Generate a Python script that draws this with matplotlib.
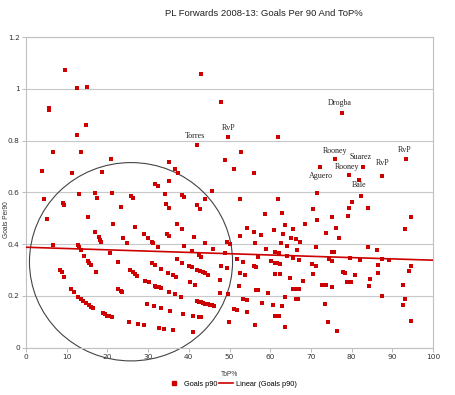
import matplotlib
matplotlib.use("Agg")
import matplotlib.pyplot as plt
from matplotlib.patches import Ellipse
from matplotlib.lines import Line2D
import numpy as np

top_pct = [9.6, 12.6, 15.1, 5.6, 5.6, 14.8, 12.5, 6.7, 13.4, 3.9, 11.3, 20.9, 18.6, 43.1, 47.9, 42.0, 49.7, 48.9,
           35.2, 36.6, 37.4, 31.8, 32.5, 35.2, 45.7, 12.9, 17.0, 17.5, 21.1, 25.7, 26.4, 34.1, 38.3, 38.9, 44.1, 4.5,
           5.2, 9.2, 9.3, 15.2, 23.3, 21.4, 6.6, 12.8, 13.1, 13.4, 17.0, 17.9, 18.2, 18.5, 14.3, 15.2, 15.5, 15.9,
           17.2, 20.7, 23.9, 24.9, 22.6, 26.9, 28.9, 29.9, 30.9, 31.3, 32.5, 34.6, 35.2, 37.0, 38.4, 38.7, 34.3, 35.1,
           41.4, 42.1, 42.8, 43.9, 45.9, 40.9, 42.6, 43.0, 8.4, 8.9, 9.3, 25.6, 26.2, 26.7, 27.2, 29.3, 30.2, 30.9,
           31.7, 33.2, 35.0, 36.0, 36.9, 37.1, 38.4, 40.1, 40.7, 41.9, 42.8, 43.4, 44.1, 44.8, 40.2, 41.6, 48.0, 47.7,
           49.3, 48.9, 49.5, 50.2, 49.6, 47.6, 11.1, 11.8, 12.8, 13.5, 14.0, 14.8, 15.4, 15.9, 16.4, 18.9, 19.5, 20.0,
           20.5, 21.1, 22.6, 23.3, 23.7, 31.6, 32.0, 32.7, 33.2, 35.2, 36.6, 38.1, 29.8, 31.4, 33.2, 35.4, 38.5, 41.0,
           42.5, 42.9, 41.9, 42.5, 43.0, 43.5, 44.1, 44.6, 45.2, 45.7, 46.3, 25.3, 27.6, 28.9, 32.8, 33.8, 36.0, 41.1,
           49.8,
           82.3, 80.2, 79.3, 79.0, 84.0, 70.4, 71.5, 75.1, 58.7, 63.0, 94.7, 93.1, 68.5, 54.4, 63.6, 65.7, 61.0, 56.1,
           57.8, 63.1, 52.5, 73.8, 76.2, 76.9, 66.4, 65.2, 67.4, 56.2, 62.6, 64.1, 71.3, 58.9, 66.6, 61.3, 62.1,
           75.2, 75.6, 84.0, 86.2, 56.9, 64.1, 65.6, 79.6, 87.5, 89.2, 51.8, 53.3, 60.2, 61.1, 61.6, 62.3, 67.0, 74.4,
           75.3, 82.1, 70.2, 71.3, 86.6, 94.6, 56.1, 56.6, 52.5, 53.8, 62.4, 61.3, 70.5, 77.8, 78.3, 80.8, 86.6, 94.2,
           64.9, 68.0, 78.9, 79.8, 84.6, 52.3, 72.7, 73.8, 75.1, 84.2, 92.7, 56.4, 56.9, 65.7, 66.4, 67.0, 59.4, 53.4,
           54.4, 58.0, 63.7, 60.8, 62.9, 66.3, 66.9, 73.4, 92.7, 93.2, 87.5, 51.0, 51.9, 54.3, 61.1, 61.6, 62.2, 56.2,
           63.6, 74.2, 76.4, 94.7,
           77.6, 61.9, 52.9, 51.0, 56.1, 75.9, 72.2, 82.7, 79.3, 81.8, 87.5, 93.4, 71.5, 52.5, 61.9]

goals_p90 = [1.074, 1.004, 1.008, 0.926, 0.919, 0.862, 0.823, 0.755, 0.757, 0.681, 0.675, 0.728, 0.679, 1.057, 0.950,
             0.783, 0.813, 0.725, 0.716, 0.690, 0.675, 0.634, 0.623, 0.645, 0.606, 0.595, 0.599, 0.579, 0.599, 0.587,
             0.578, 0.592, 0.591, 0.582, 0.574, 0.575,
             0.498, 0.559, 0.550, 0.503, 0.545, 0.476, 0.397, 0.397, 0.388, 0.378, 0.448, 0.426, 0.417, 0.409, 0.354,
             0.335, 0.326, 0.319, 0.294, 0.365, 0.423, 0.406, 0.330, 0.468, 0.439, 0.423, 0.409, 0.404, 0.388, 0.439,
             0.432, 0.476, 0.459, 0.394, 0.555, 0.539, 0.427, 0.550, 0.535, 0.404, 0.383, 0.372, 0.357, 0.352, 0.301,
             0.292, 0.272, 0.299, 0.293, 0.285, 0.277, 0.259, 0.253, 0.329, 0.319, 0.305, 0.288, 0.280, 0.272, 0.341,
             0.326, 0.317, 0.310, 0.299, 0.295, 0.292, 0.288, 0.281, 0.252, 0.243, 0.314, 0.263, 0.306, 0.364, 0.408,
             0.401, 0.207, 0.211, 0.227, 0.217, 0.197, 0.188, 0.181, 0.172, 0.163, 0.156, 0.154, 0.134, 0.129, 0.124,
             0.121, 0.119, 0.227, 0.219, 0.214, 0.240, 0.236, 0.234, 0.230, 0.215, 0.208, 0.197, 0.169, 0.161, 0.152,
             0.142, 0.129, 0.123, 0.119, 0.117, 0.181, 0.177, 0.175, 0.173, 0.170, 0.169, 0.166, 0.164, 0.161, 0.099,
             0.090, 0.086, 0.076, 0.072, 0.070, 0.062, 0.101,
             0.585, 0.564, 0.539, 0.510, 0.539, 0.537, 0.493, 0.505, 0.515, 0.519, 0.505, 0.459, 0.477, 0.462, 0.474,
             0.459, 0.454, 0.448, 0.435, 0.439, 0.430, 0.444, 0.462, 0.425, 0.418, 0.425, 0.409, 0.403, 0.403, 0.391,
             0.387, 0.383, 0.378, 0.370, 0.365, 0.370, 0.368, 0.388, 0.379, 0.352, 0.354, 0.346, 0.348, 0.343, 0.339,
             0.341, 0.330, 0.335, 0.329, 0.326, 0.323, 0.337, 0.341, 0.335, 0.338, 0.323, 0.316, 0.320, 0.317, 0.316,
             0.310, 0.288, 0.279, 0.283, 0.286, 0.285, 0.292, 0.290, 0.280, 0.290, 0.295, 0.270, 0.258, 0.255, 0.254,
             0.267, 0.239, 0.244, 0.241, 0.235, 0.239, 0.244, 0.223, 0.221, 0.228, 0.227, 0.226, 0.210, 0.188, 0.185,
             0.173, 0.196, 0.164, 0.160, 0.190, 0.188, 0.170, 0.163, 0.188, 0.200, 0.148, 0.146, 0.138, 0.123, 0.121,
             0.121, 0.089, 0.079, 0.101, 0.066, 0.105,
             0.908, 0.814, 0.754, 0.692, 0.674, 0.728, 0.699, 0.699, 0.667, 0.646, 0.663, 0.729, 0.597, 0.574, 0.574]

# linear trend line as shown in the reference (endpoints at x=0 and x=100)
trend_x = [0, 100]
trend_y = [0.388, 0.338]

label_names = ["Torres", "RvP", "Drogba", "Rooney", "Suarez", "Rooney", "Aguero", "RvP", "RvP", "Bale"]
label_x = [41.5, 49.9, 77.2, 75.9, 82.2, 78.8, 72.5, 87.5, 93.0, 81.9]
label_y = [0.819, 0.849, 0.945, 0.760, 0.735, 0.698, 0.665, 0.713, 0.762, 0.628]

x = np.array(top_pct)
y = np.array(goals_p90)

fig = plt.figure(figsize=(4.55, 3.95), dpi=100)
ax = fig.add_axes([26/455, 1-347.7/395, (433-26)/455, (347.7-37)/395])

red = "#cc0000"
ax.scatter(x, y, marker="s", s=10, color=red, linewidths=0, zorder=3)

ax.plot(trend_x, trend_y, color=red, lw=1.2, zorder=4)

for n, lx, ly in zip(label_names, label_x, label_y):
    ax.text(lx, ly, n, fontsize=5.8, family="Liberation Serif", ha="center", va="center",
            color="#222222", zorder=5)

ell = Ellipse((25.8, 0.332), 49.9, 0.766, fill=False, edgecolor="#444444", lw=0.8,
              clip_on=False, zorder=2)
ax.add_patch(ell)

ax.set_xlim(0, 100)
ax.set_ylim(0, 1.2)
ax.set_xticks(np.arange(0, 101, 10))
ax.set_yticks([0, 0.2, 0.4, 0.6, 0.8, 1.0, 1.2])
ax.set_yticklabels(["0", "0.2", "0.4", "0.6", "0.8", "1", "1.2"])
ax.grid(axis="y", color="#c8c8c8", lw=0.8)
ax.set_axisbelow(True)
for s in ax.spines.values():
    s.set_color("#c0c0c0")
    s.set_linewidth(0.8)
ax.tick_params(axis="both", labelsize=5.3, colors="#b0b0b0", labelcolor="#333333",
               length=3, width=0.6, pad=1.5)

fig.text(264/455, 1-14/395, "PL Forwards 2008-13: Goals Per 90 And ToP%", ha="center", va="center",
         fontsize=6.8, family="Liberation Sans", color="#222222")
fig.text(229/455, 1-375/395, "ToP%", ha="center", va="center", fontsize=4.8,
         family="Liberation Sans", color="#333333")
fig.text(7/455, 1-220/395, "Goals Per90", ha="center", va="center", rotation=90, fontsize=4.8,
         family="Liberation Sans", color="#333333")

handles = [Line2D([], [], marker="s", color=red, ls="none", markersize=3.5),
           Line2D([], [], color=red, lw=1.2)]
fig.legend(handles, ["Goals p90", "Linear (Goals p90)"], loc="center", bbox_to_anchor=(232/455, 1-384/395),
           ncol=2, frameon=False, handlelength=1.8, handletextpad=0.4, columnspacing=0.3,
           prop={"family": "Liberation Sans", "size": 5.3})

fig.savefig("out.png", dpi=100)
